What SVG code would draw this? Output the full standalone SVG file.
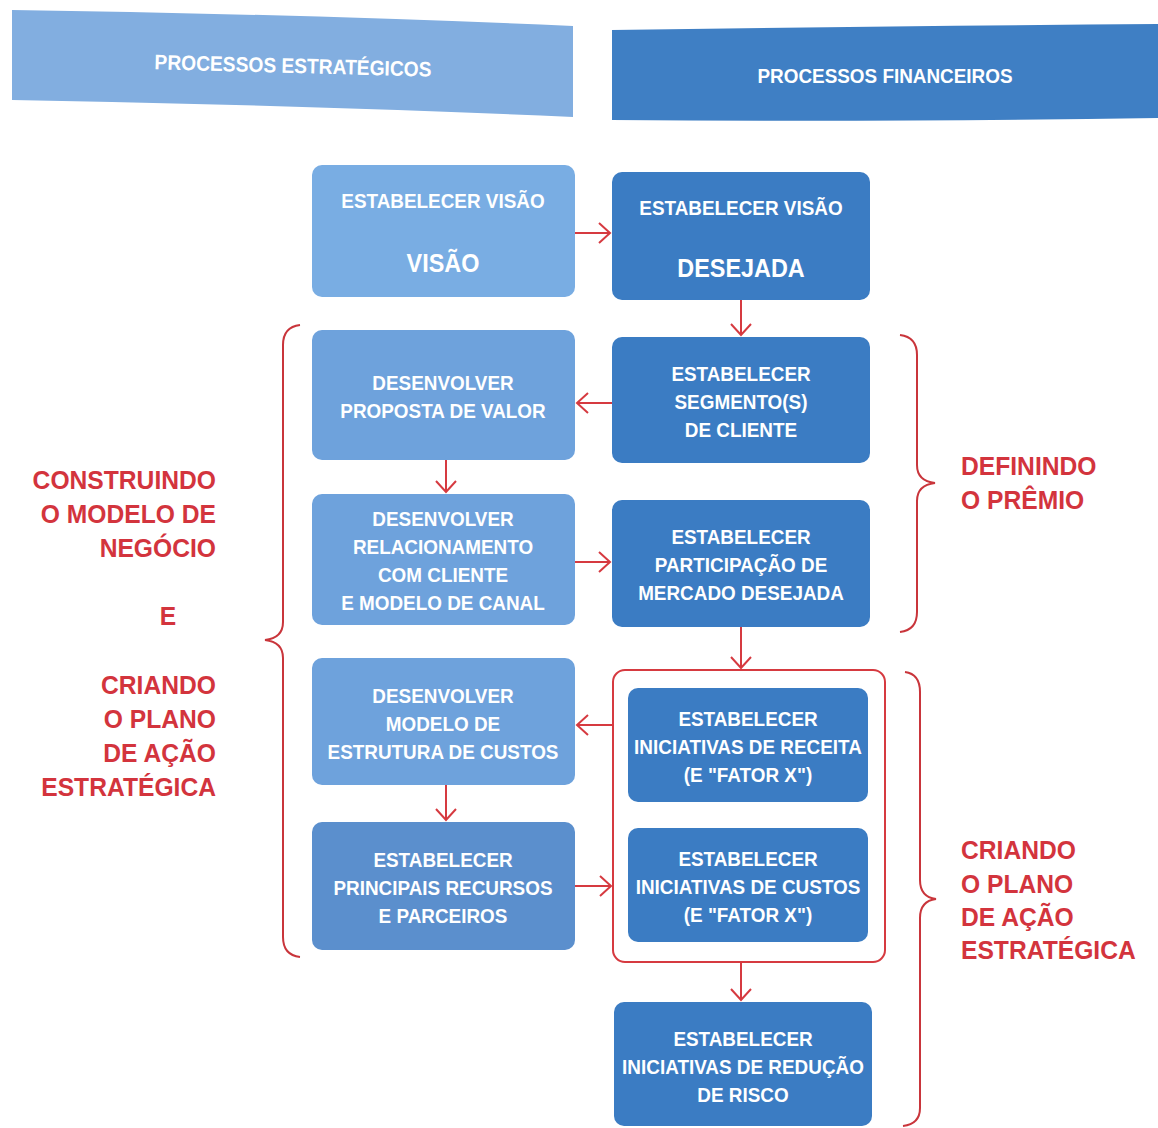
<svg xmlns="http://www.w3.org/2000/svg" width="1158" height="1128" viewBox="0 0 1158 1128">
<defs>
<style>
.bx{stroke:none}
.lt{fill:#79ade3}
.md{fill:#6ea2dc}
.dk5{fill:#5b8fcd}
.dk{fill:#3b7cc3}
.wt{font-family:"Liberation Sans",Arial,sans-serif;font-weight:bold;fill:#ffffff;text-anchor:middle;transform-box:fill-box;transform-origin:center;transform:scaleX(0.9)}
.s{font-size:21px}
.b{font-size:26px}
.hd{font-family:"Liberation Sans",Arial,sans-serif;font-weight:bold;fill:#ffffff;font-size:21px;text-anchor:middle}
.rd{font-family:"Liberation Sans",Arial,sans-serif;font-weight:bold;fill:#d3343d;font-size:26.5px;transform-box:fill-box;transform:scaleX(0.93)}
.re{text-anchor:end;transform-origin:right center}
.rl{text-anchor:start;transform-origin:left center}
.rc{text-anchor:middle;transform-origin:center}
.cn{fill:none;stroke:#d63a40;stroke-width:2}
.br{fill:none;stroke:#c9353b;stroke-width:2}
</style>
<marker id="ah" markerUnits="userSpaceOnUse" markerWidth="14" markerHeight="22" refX="12" refY="11" orient="auto">
<path d="M1,1 L12,11 L1,21" fill="none" stroke="#d63a40" stroke-width="2"/>
</marker>
</defs>
<rect width="1158" height="1128" fill="#ffffff"/>

<g id="header-left">
<path d="M12,10 Q300,14 573,26 L573,117 Q300,105 12,100 Z" fill="#82aee0"/>
<text class="hd" x="293" y="73" textLength="277" lengthAdjust="spacingAndGlyphs" transform="rotate(1.5 293 66)">PROCESSOS ESTRATÉGICOS</text>
</g>
<g id="header-right">
<path d="M612,30 Q900,26 1158,24 L1158,118 Q900,122 612,120 Z" fill="#3f7fc4"/>
<text class="hd" x="885" y="83" textLength="255" lengthAdjust="spacingAndGlyphs">PROCESSOS FINANCEIROS</text>
</g>

<g id="L1">
<rect class="bx lt" x="312" y="165" width="263" height="132" rx="10"/>
<text class="wt s" x="443" y="208">ESTABELECER VISÃO</text>
<text class="wt b" x="443" y="272">VISÃO</text>
</g>
<g id="R1">
<rect class="bx dk" x="612" y="172" width="258" height="128" rx="10"/>
<text class="wt s" x="741" y="215">ESTABELECER VISÃO</text>
<text class="wt b" x="741" y="277">DESEJADA</text>
</g>
<g id="L2">
<rect class="bx md" x="312" y="330" width="263" height="130" rx="10"/>
<text class="wt s" x="443" y="390">DESENVOLVER</text>
<text class="wt s" x="443" y="418">PROPOSTA DE VALOR</text>
</g>
<g id="R2">
<rect class="bx dk" x="612" y="337" width="258" height="126" rx="10"/>
<text class="wt s" x="741" y="381">ESTABELECER</text>
<text class="wt s" x="741" y="409">SEGMENTO(S)</text>
<text class="wt s" x="741" y="437">DE CLIENTE</text>
</g>
<g id="L3">
<rect class="bx md" x="312" y="494" width="263" height="131" rx="10"/>
<text class="wt s" x="443" y="526">DESENVOLVER</text>
<text class="wt s" x="443" y="554">RELACIONAMENTO</text>
<text class="wt s" x="443" y="582">COM CLIENTE</text>
<text class="wt s" x="443" y="610">E MODELO DE CANAL</text>
</g>
<g id="R3">
<rect class="bx dk" x="612" y="500" width="258" height="127" rx="10"/>
<text class="wt s" x="741" y="544">ESTABELECER</text>
<text class="wt s" x="741" y="572">PARTICIPAÇÃO DE</text>
<text class="wt s" x="741" y="600">MERCADO DESEJADA</text>
</g>
<g id="L4">
<rect class="bx md" x="312" y="658" width="263" height="127" rx="10"/>
<text class="wt s" x="443" y="703">DESENVOLVER</text>
<text class="wt s" x="443" y="731">MODELO DE</text>
<text class="wt s" x="443" y="759">ESTRUTURA DE CUSTOS</text>
</g>
<g id="L5">
<rect class="bx dk5" x="312" y="822" width="263" height="128" rx="10"/>
<text class="wt s" x="443" y="867">ESTABELECER</text>
<text class="wt s" x="443" y="895">PRINCIPAIS RECURSOS</text>
<text class="wt s" x="443" y="923">E PARCEIROS</text>
</g>
<g id="group-iniciativas">
<rect x="613" y="670" width="272" height="292" rx="12" fill="none" stroke="#d63a40" stroke-width="2"/>
</g>
<g id="R4">
<rect class="bx dk" x="628" y="688" width="240" height="114" rx="10"/>
<text class="wt s" x="748" y="726">ESTABELECER</text>
<text class="wt s" x="748" y="754">INICIATIVAS DE RECEITA</text>
<text class="wt s" x="748" y="782">(E "FATOR X")</text>
</g>
<g id="R5">
<rect class="bx dk" x="628" y="828" width="240" height="114" rx="10"/>
<text class="wt s" x="748" y="866">ESTABELECER</text>
<text class="wt s" x="748" y="894">INICIATIVAS DE CUSTOS</text>
<text class="wt s" x="748" y="922">(E "FATOR X")</text>
</g>
<g id="R6">
<rect class="bx dk" x="614" y="1002" width="258" height="124" rx="10"/>
<text class="wt s" x="743" y="1046">ESTABELECER</text>
<text class="wt s" x="743" y="1074">INICIATIVAS DE REDUÇÃO</text>
<text class="wt s" x="743" y="1102">DE RISCO</text>
</g>

<g id="connectors">
<line class="cn" x1="575" y1="233" x2="610" y2="233" marker-end="url(#ah)"/>
<line class="cn" x1="741" y1="300" x2="741" y2="335" marker-end="url(#ah)"/>
<line class="cn" x1="612" y1="403" x2="577" y2="403" marker-end="url(#ah)"/>
<line class="cn" x1="446" y1="460" x2="446" y2="492" marker-end="url(#ah)"/>
<line class="cn" x1="575" y1="562" x2="610" y2="562" marker-end="url(#ah)"/>
<line class="cn" x1="741" y1="627" x2="741" y2="668" marker-end="url(#ah)"/>
<line class="cn" x1="613" y1="725" x2="577" y2="725" marker-end="url(#ah)"/>
<line class="cn" x1="446" y1="785" x2="446" y2="820" marker-end="url(#ah)"/>
<line class="cn" x1="575" y1="886" x2="611" y2="886" marker-end="url(#ah)"/>
<line class="cn" x1="741" y1="962" x2="741" y2="1000" marker-end="url(#ah)"/>
</g>

<g id="brace-left">
<path class="br" d="M300,325 Q283,327 283,345 L283,622 Q283,638 265,640 Q283,642 283,658 L283,937 Q283,955 300,957"/>
</g>
<g id="brace-premio">
<path class="br" d="M900,335 Q917,337 917,355 L917,465 Q917,481 935,483 Q917,485 917,501 L917,612 Q917,630 900,632"/>
</g>
<g id="brace-plano">
<path class="br" d="M905,672 Q920,674 920,692 L920,880 Q920,897 936,899 Q920,901 920,918 L920,1108 Q920,1124 903,1126"/>
</g>

<g id="label-left">
<text class="rd re" x="216" y="489">CONSTRUINDO</text>
<text class="rd re" x="216" y="523">O MODELO DE</text>
<text class="rd re" x="216" y="557">NEGÓCIO</text>
<text class="rd rc" x="168" y="625">E</text>
<text class="rd re" x="216" y="694">CRIANDO</text>
<text class="rd re" x="216" y="728">O PLANO</text>
<text class="rd re" x="216" y="762">DE AÇÃO</text>
<text class="rd re" x="216" y="796">ESTRATÉGICA</text>
</g>
<g id="label-premio">
<text class="rd rl" x="961" y="475">DEFININDO</text>
<text class="rd rl" x="961" y="509">O PRÊMIO</text>
</g>
<g id="label-plano">
<text class="rd rl" x="961" y="859">CRIANDO</text>
<text class="rd rl" x="961" y="893">O PLANO</text>
<text class="rd rl" x="961" y="926">DE AÇÃO</text>
<text class="rd rl" x="961" y="959">ESTRATÉGICA</text>
</g>
</svg>
